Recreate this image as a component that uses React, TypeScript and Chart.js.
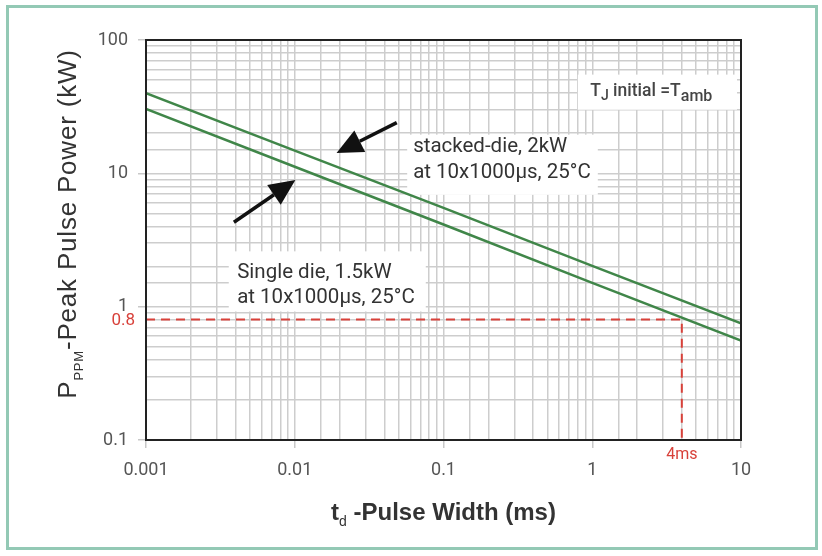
import { useEffect, useRef } from 'react';
import { Chart, registerables } from 'chart.js';

Chart.register(...registerables);

// pulse width (ms) and peak pulse power (kW)
const pulseWidthMs = [0.001, 0.01, 0.1, 1, 10];
const stackedDieKw = [40, 14.8, 5.5, 2.02, 0.75];
const singleDieKw = [30.4, 11.2, 4.13, 1.51, 0.556];

// 0.8 kW reference, reached at 4 ms
const refPowerKw = 0.8;
const refWidthMs = 4;
const xMin = 0.001;
const xMax = 10;
const yMin = 0.1;
const yMax = 100;

const GREEN = '#408649';
const RED = '#d8413a';
const TEXT = '#333';

const isDecade = (v: number) => Math.abs(Math.log10(v) - Math.round(Math.log10(v))) < 1e-6;

type Seg = { text: string; font: string; dy?: number };

function drawRich(ctx: CanvasRenderingContext2D, segs: Seg[], x: number, y: number, align: 'left' | 'center') {
  ctx.textBaseline = 'alphabetic';
  ctx.textAlign = 'left';
  let total = 0;
  segs.forEach((s) => {
    ctx.font = s.font;
    total += ctx.measureText(s.text).width;
  });
  let cx = align === 'center' ? x - total / 2 : x;
  segs.forEach((s) => {
    ctx.font = s.font;
    ctx.fillText(s.text, cx, y + (s.dy || 0));
    cx += ctx.measureText(s.text).width;
  });
}

function drawArrow(ctx: CanvasRenderingContext2D, x0: number, y0: number, x1: number, y1: number) {
  const ang = Math.atan2(y1 - y0, x1 - x0);
  const headLen = 26;
  const headW = 12;
  const bx = x1 - headLen * Math.cos(ang);
  const by = y1 - headLen * Math.sin(ang);
  ctx.save();
  ctx.strokeStyle = '#111';
  ctx.fillStyle = '#111';
  ctx.lineWidth = 3.5;
  ctx.beginPath();
  ctx.moveTo(x0, y0);
  ctx.lineTo(bx, by);
  ctx.stroke();
  ctx.beginPath();
  ctx.moveTo(x1, y1);
  ctx.lineTo(bx + headW * Math.sin(ang), by - headW * Math.cos(ang));
  ctx.lineTo(bx - headW * Math.sin(ang), by + headW * Math.cos(ang));
  ctx.closePath();
  ctx.fill();
  ctx.restore();
}

const annotationPlugin = {
  id: 'annotations',
  beforeDatasetsDraw(chart: any) {
    const { ctx, scales } = chart;
    const x = scales.x;
    const y = scales.y;
    const font = '20.5px Roboto, "Liberation Sans", sans-serif';
    ctx.save();
    // white label boxes over the grid
    const boxes = [
      { x0: 0.0036, x1: 0.076, y0: 2.6, y1: 0.92 },
      { x0: 0.057, x1: 1.09, y0: 19.5, y1: 6.9 },
      { x0: 0.8, x1: 9.4, y0: 55, y1: 30 },
    ];
    ctx.fillStyle = '#fff';
    boxes.forEach((b) => {
      const l = x.getPixelForValue(b.x0);
      const r = x.getPixelForValue(b.x1);
      const t = y.getPixelForValue(b.y0);
      const bt = y.getPixelForValue(b.y1);
      ctx.fillRect(l, t, r - l, bt - t);
    });
    ctx.fillStyle = TEXT;
    ctx.font = font;
    ctx.textBaseline = 'alphabetic';
    ctx.textAlign = 'left';
    const sx = x.getPixelForValue(0.0625);
    ctx.fillText('stacked-die, 2kW', sx, y.getPixelForValue(14.5));
    ctx.fillText('at 10x1000\u03bcs, 25\u00b0C', sx, y.getPixelForValue(9.2));
    const gx = x.getPixelForValue(0.0041);
    ctx.fillText('Single die, 1.5kW', gx, y.getPixelForValue(1.64));
    ctx.fillText('at 10x1000\u03bcs, 25\u00b0C', gx, y.getPixelForValue(1.06));
    ctx.fillStyle = '#444';
    drawRich(
      ctx,
      [
        { text: 'T', font: '500 17.5px Roboto, sans-serif' },
        { text: 'J', font: '500 14px Roboto, sans-serif', dy: 4 },
        { text: ' initial =T', font: '500 17.5px Roboto, sans-serif' },
        { text: 'amb', font: '500 16px Roboto, sans-serif', dy: 5 },
      ],
      x.getPixelForValue(0.97),
      y.getPixelForValue(38),
      'left'
    );
    ctx.restore();
  },
  afterDatasetsDraw(chart: any) {
    const { ctx, scales, chartArea } = chart;
    const x = scales.x;
    const y = scales.y;
    ctx.save();
    // plot frame
    ctx.strokeStyle = '#222';
    ctx.lineWidth = 2;
    ctx.strokeRect(chartArea.left, chartArea.top, chartArea.right - chartArea.left, chartArea.bottom - chartArea.top);
    // arrows pointing at the curves
    drawArrow(ctx, x.getPixelForValue(0.0485), y.getPixelForValue(24), x.getPixelForValue(0.0191), y.getPixelForValue(14.2));
    drawArrow(ctx, x.getPixelForValue(0.0039), y.getPixelForValue(4.3), x.getPixelForValue(0.0101), y.getPixelForValue(8.9));
    // red reference labels
    ctx.fillStyle = RED;
    ctx.font = '17px Roboto, sans-serif';
    ctx.textAlign = 'right';
    ctx.textBaseline = 'middle';
    ctx.fillText(String(refPowerKw), chartArea.left - 11, y.getPixelForValue(refPowerKw) + 1);
    ctx.textAlign = 'center';
    ctx.font = '16px Roboto, sans-serif';
    ctx.fillText(refWidthMs + 'ms', x.getPixelForValue(refWidthMs), chartArea.bottom + 15);
    // axis titles with subscripts
    ctx.fillStyle = TEXT;
    drawRich(
      ctx,
      [
        { text: 't', font: 'bold 24px "Liberation Sans", Arial, sans-serif' },
        { text: 'd', font: '14px "Liberation Sans", Arial, sans-serif', dy: 6 },
        { text: ' -Pulse Width (ms)', font: 'bold 24px "Liberation Sans", Arial, sans-serif' },
      ],
      (chartArea.left + chartArea.right) / 2,
      chartArea.bottom + 80,
      'center'
    );
    ctx.translate(76, 224);
    ctx.rotate(-Math.PI / 2);
    (ctx as any).letterSpacing = '0.8px';
    drawRich(
      ctx,
      [
        { text: 'P', font: '26px "Liberation Sans", Arial, sans-serif' },
        { text: 'PPM', font: '13px "Liberation Sans", Arial, sans-serif', dy: 7 },
        { text: '-Peak Pulse Power (kW)', font: '26px "Liberation Sans", Arial, sans-serif' },
      ],
      0,
      0,
      'center'
    );
    ctx.restore();
  },
};

const App = () => {
  const canvasRef = useRef<HTMLCanvasElement>(null);

  useEffect(() => {
    if (!canvasRef.current) return;
    const chart = new Chart(canvasRef.current, {
      type: 'line',
      data: {
        datasets: [
          {
            label: 'Reference',
            data: [
              { x: xMin, y: refPowerKw },
              { x: refWidthMs, y: refPowerKw },
              { x: refWidthMs, y: yMin },
            ],
            borderColor: RED,
            borderWidth: 2,
            borderDash: [9, 6],
            pointRadius: 0,
            order: 3,
          },
          {
            label: 'Stacked die',
            data: pulseWidthMs.map((v, i) => ({ x: v, y: stackedDieKw[i] })),
            borderColor: GREEN,
            borderWidth: 2.5,
            pointRadius: 0,
            order: 1,
          },
          {
            label: 'Single die',
            data: pulseWidthMs.map((v, i) => ({ x: v, y: singleDieKw[i] })),
            borderColor: GREEN,
            borderWidth: 2.5,
            pointRadius: 0,
            order: 2,
          },
        ],
      },
      options: {
        animation: false,
        responsive: false,
        devicePixelRatio: 1,
        layout: { padding: { top: 40, right: 81, left: 0, bottom: 0 } },
        plugins: { legend: { display: false }, tooltip: { enabled: false } },
        scales: {
          x: {
            type: 'logarithmic',
            min: xMin,
            max: xMax,
            border: { display: false },
            grid: {
              color: '#cdcdcd',
              lineWidth: 1.5,
              tickLength: 8,
              tickColor: (c: any) => (c.tick && isDecade(c.tick.value) ? '#c8c8c8' : 'rgba(0,0,0,0)'),
            },
            ticks: {
              color: '#555',
              font: { family: 'Roboto', size: 18 },
              padding: 12,
              maxRotation: 0,
              autoSkip: false,
              callback: (v: any) => (isDecade(Number(v)) ? String(Number(v)) : ''),
            },
            afterFit: (s: any) => {
              s.height = 116;
            },
          },
          y: {
            type: 'logarithmic',
            min: yMin,
            max: yMax,
            border: { display: false },
            grid: {
              color: '#cdcdcd',
              lineWidth: 1.5,
              tickLength: 8,
              tickColor: (c: any) => (c.tick && isDecade(c.tick.value) ? '#c8c8c8' : 'rgba(0,0,0,0)'),
            },
            ticks: {
              color: '#555',
              font: { family: 'Roboto', size: 18 },
              padding: 10,
              autoSkip: false,
              callback: (v: any) => (isDecade(Number(v)) ? String(Number(v)) : ''),
            },
            afterFit: (s: any) => {
              s.width = 146;
            },
          },
        },
      },
      plugins: [annotationPlugin],
    });
    return () => chart.destroy();
  }, []);

  return (
    <div style={{ position: 'fixed', left: 0, top: 0, width: 822, height: 556, background: '#fff' }}>
      <canvas ref={canvasRef} width={822} height={556} style={{ position: 'absolute', left: 0, top: 0 }} />
      <div
        style={{
          position: 'absolute',
          left: 6,
          top: 5,
          width: 806,
          height: 539,
          border: '3px solid #93c9b5',
          pointerEvents: 'none',
        }}
      />
    </div>
  );
};

export default App;
